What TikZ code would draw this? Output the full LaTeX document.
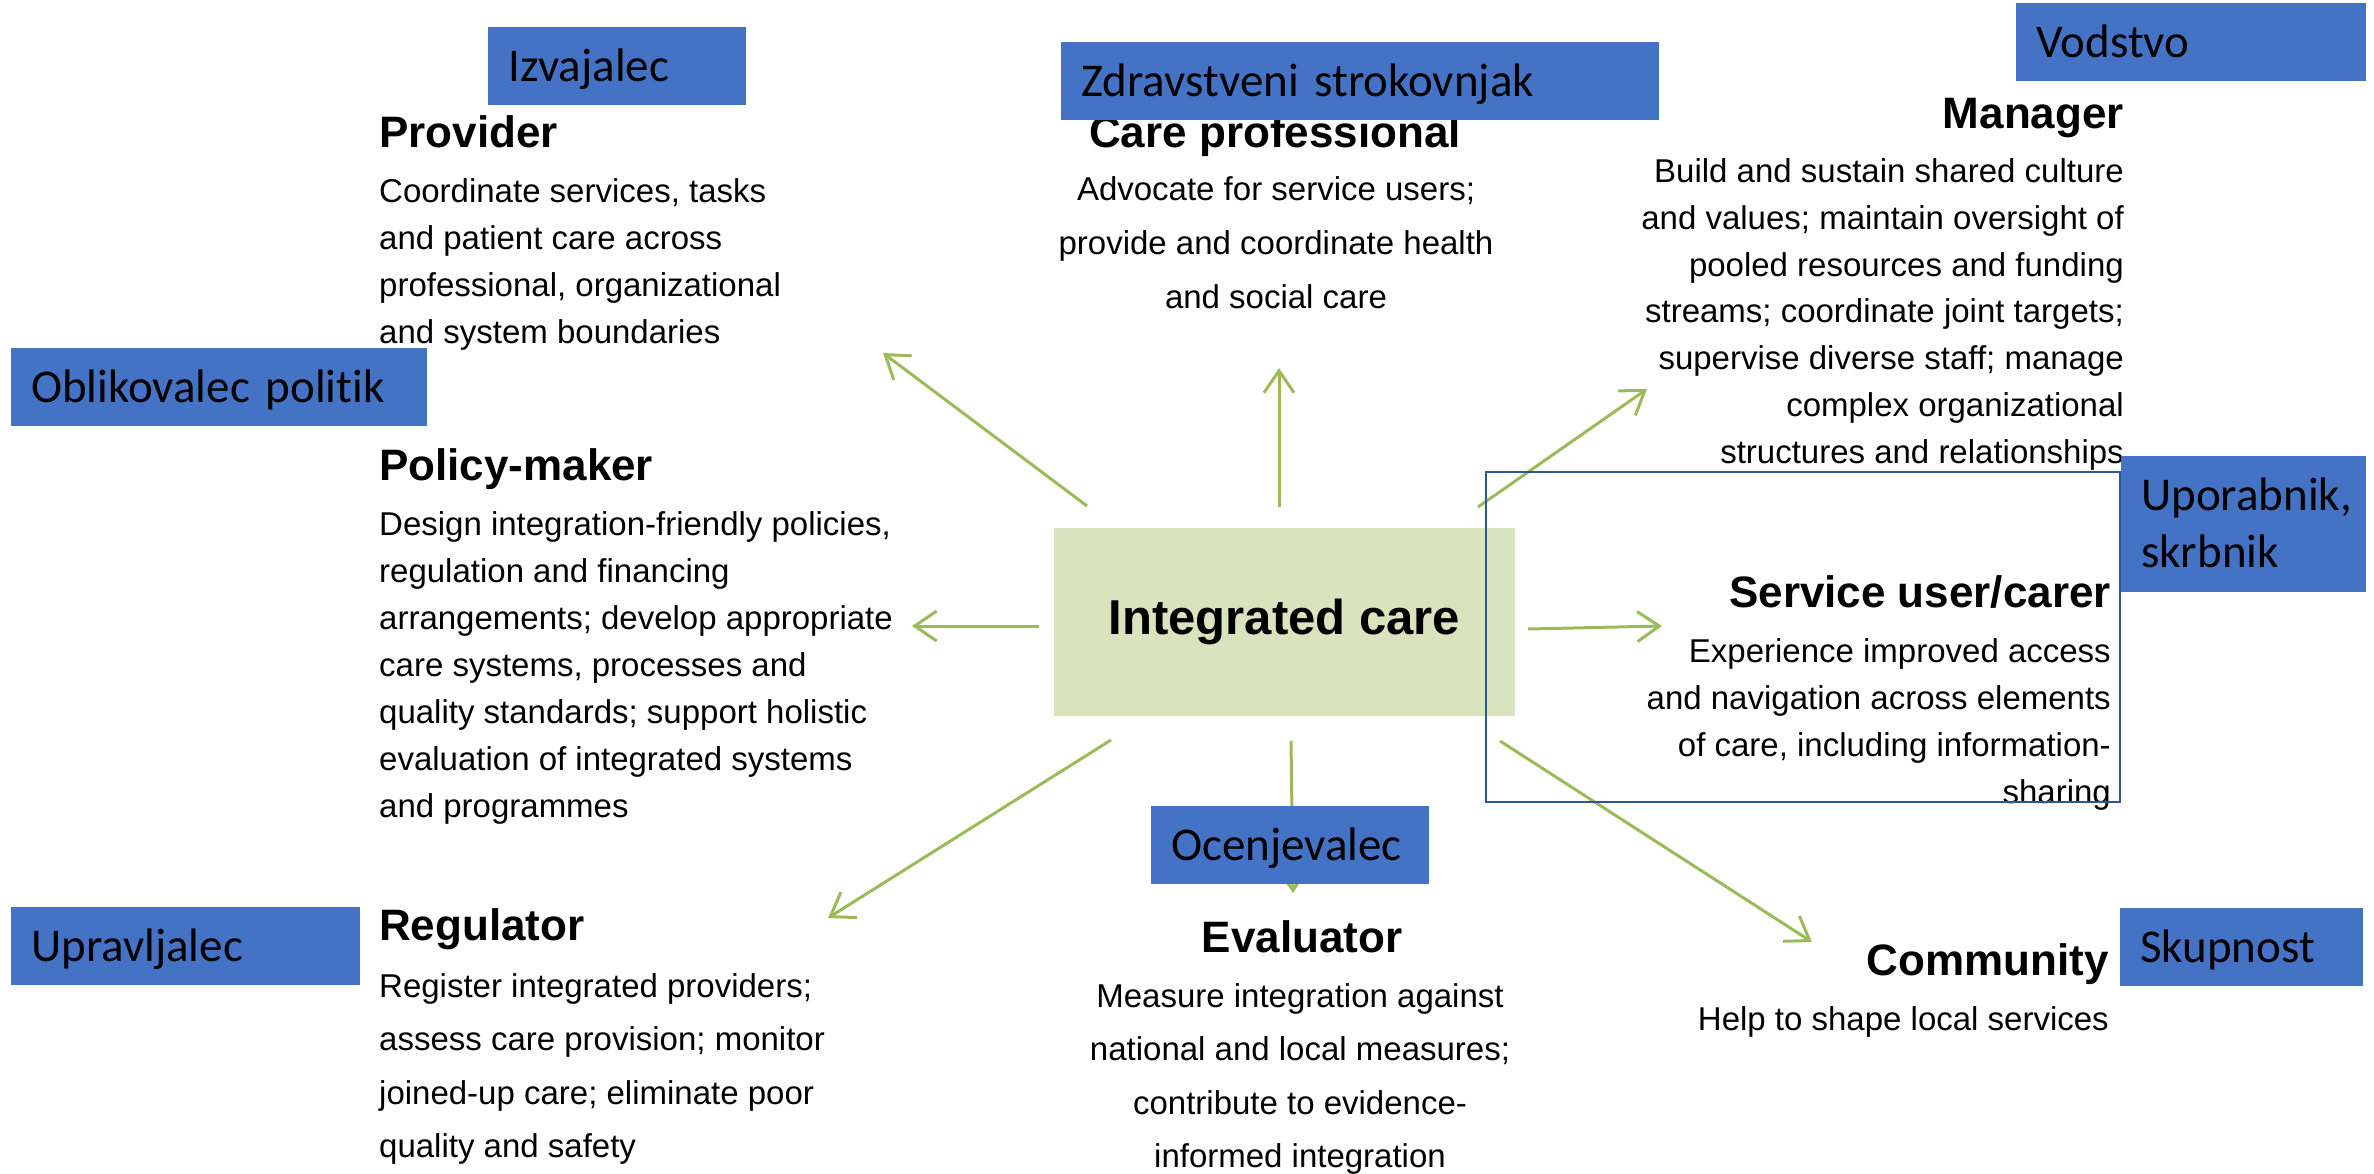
\documentclass[tikz,border=0pt]{standalone}
\usepackage{fontspec}
\setmainfont{Liberation Sans}
\newfontfamily\tagfont[Ligatures=NoCommon]{Carlito}
\usetikzlibrary{arrows.meta}

\definecolor{tagblue}{HTML}{4472C4}
\definecolor{frameblue}{HTML}{2F5597}
\definecolor{linkgreen}{HTML}{9BBB59}
\definecolor{coregreen}{HTML}{D7E4BD}

\begin{document}
\begin{tikzpicture}[x=1pt, y=-1pt,
  title/.style={font=\bfseries\fontsize{44}{52}\selectfont, inner sep=0pt},
  body/.style={font=\fontsize{33}{47}\selectfont, inner sep=0pt},
  bodywide/.style={font=\fontsize{33}{53.5}\selectfont, inner sep=0pt},
  tag/.style={fill=tagblue, anchor=north west, align=left,
    font=\tagfont\fontsize{47}{57}\selectfont,
    minimum width=#1, text width=#1-40, inner xsep=20pt, inner ysep=20pt,
    text height=34pt, text depth=4pt},
  link/.style={linkgreen, line width=3pt,
    -{Straight Barb[length=22pt, width=30pt]}}]
  \useasboundingbox (0,0) rectangle (2374,1173);

  % Key points
  \coordinate (pv-in) at (1087,506);
  \coordinate (pv-out) at (883,353);
  \coordinate (cp-in) at (1279,507);
  \coordinate (cp-out) at (1279,368);
  \coordinate (mg-in) at (1478,507);
  \coordinate (mg-out) at (1647,389);
  \coordinate (pm-in) at (1039,626);
  \coordinate (pm-out) at (912,626);
  \coordinate (su-in) at (1528,629);
  \coordinate (su-out) at (1662,626);
  \coordinate (rg-in) at (1111,740);
  \coordinate (rg-out) at (828,918);
  \coordinate (ev-in) at (1291,741);
  \coordinate (ev-out) at (1293,893);
  \coordinate (cm-in) at (1500,741);
  \coordinate (cm-out) at (1812,942);

  % Roles, left column (text nodes sit on their last line)
  \node[title, anchor=base west] (pv-title) at (379,147) {Provider};
  \node[body, anchor=base west, align=left] (pv-text) at (379,343)
    {Coordinate services, tasks\\and patient care across\\professional, organizational\\and system boundaries};
  \node[title, anchor=base west] (pm-title) at (379,480) {Policy-maker};
  \node[body, anchor=base west, align=left] (pm-text) at (379,817)
    {Design integration-friendly policies,\\regulation and financing\\arrangements; develop appropriate\\care systems, processes and\\quality standards; support holistic\\evaluation of integrated systems\\and programmes};
  \node[title, anchor=base west] (rg-title) at (379,940) {Regulator};
  \node[bodywide, anchor=base west, align=left] (rg-text) at (379,1157.5)
    {Register integrated providers;\\assess care provision; monitor\\joined-up care; eliminate poor\\quality and safety};

  % Roles, middle column
  \node[title, anchor=base] (cp-title) at (1275,147) {Care professional};
  \node[font=\fontsize{33}{54}\selectfont, inner sep=0pt, anchor=base, align=center] (cp-text) at (1276,308)
    {Advocate for service users;\\provide and coordinate health\\and social care};
  \node[title, anchor=base] (ev-title) at (1302,952) {Evaluator};
  \node[bodywide, anchor=base, align=center] (ev-text) at (1300,1167.5)
    {Measure integration against\\national and local measures;\\contribute to evidence-\\informed integration};

  % Roles, right column
  \node[title, anchor=base east] (mg-title) at (2124,128) {Manager};
  \node[body, anchor=base east, align=right, font=\fontsize{33}{46.7}\selectfont] (mg-text) at (2124,463)
    {Build and sustain shared culture\\and values; maintain oversight of\\pooled resources and funding\\streams; coordinate joint targets;\\supervise diverse staff; manage\\complex organizational\\structures and relationships};
  \node[title, anchor=base east] (su-title) at (2111,607) {Service user/carer};
  \node[body, anchor=base east, align=right] (su-text) at (2111,803)
    {Experience improved access\\and navigation across elements\\of care, including information-\\sharing};
  \node[title, anchor=base east] (cm-title) at (2109,975) {Community};
  \node[body, anchor=base east] (cm-text) at (2109,1030) {Help to shape local services};

  % Centre
  \node[fill=coregreen, minimum width=461pt, minimum height=188pt,
    font=\bfseries\fontsize{49}{58}\selectfont] (core) at (1284.5,622) {Integrated care};

  % Arrows out of the centre
  \draw[link] (pv-in) -- (pv-out);
  \draw[link] (cp-in) -- (cp-out);
  \draw[link] (mg-in) -- (mg-out);
  \draw[link] (pm-in) -- (pm-out);
  \draw[link] (su-in) -- (su-out);
  \draw[link] (rg-in) -- (rg-out);
  \draw[link] (ev-in) -- (ev-out);
  \draw[link] (cm-in) -- (cm-out);

  % Frame round the service user
  \draw[frameblue, line width=2.5pt] (1486,472) rectangle (2120,802);

  % Slovene labels
  \node[tag=258] (izvajalec) at (488,27) {Izvajalec};
  \node[tag=598] (zdravstveni) at (1061,42) {Zdravstveni strokovnjak};
  \node[tag=350] (vodstvo) at (2016,3) {Vodstvo};
  \node[tag=416] (oblikovalec) at (11,348) {Oblikovalec politik};
  \node[tag=245, text depth=62pt] (uporabnik) at (2121,456) {Uporabnik,\\skrbnik};
  \node[tag=278] (ocenjevalec) at (1151,806) {Ocenjevalec};
  \node[tag=349] (upravljalec) at (11,907) {Upravljalec};
  \node[tag=243] (skupnost) at (2120,908) {Skupnost};
\end{tikzpicture}
\end{document}
